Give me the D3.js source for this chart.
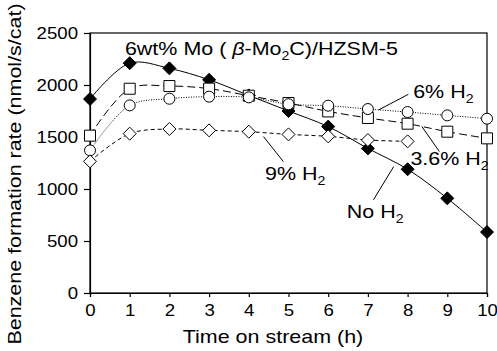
<!DOCTYPE html>
<html>
<head>
<meta charset="utf-8">
<script src="https://cdn.jsdelivr.net/npm/d3@7"></script>
<style>
  body { margin: 0; background: #fff; }
  text { font-family: "Liberation Sans", Arial, sans-serif; fill: #000; }
</style>
</head>
<body>
<div id="wrapper"></div>
<script>
// data
const hours = [0, 1, 2, 3, 4, 5, 6, 7, 8, 9, 10]
const noH2 = [1865, 2210, 2160, 2050, 1900, 1750, 1600, 1390, 1190, 910, 586]
const h2_36 = [1513, 1964, 1990, 1965, 1897, 1827, 1746, 1683, 1628, 1551, 1487]
const h2_6 = [1371, 1804, 1868, 1888, 1881, 1815, 1801, 1769, 1740, 1708, 1676]
const h2_9 = [1266, 1532, 1577, 1564, 1551, 1525, 1506, 1471, 1458]
const yTicks = [0, 500, 1000, 1500, 2000, 2500]
const xTicks = [0, 1, 2, 3, 4, 5, 6, 7, 8, 9, 10]

function drawChart() {

  // 1. series
  const series = [
    {name: "noH2", values: noH2, dash: null, marker: "diamond", fill: "#000"},
    {name: "h2_36", values: h2_36, dash: "8,4", marker: "square", fill: "#fff"},
    {name: "h2_6", values: h2_6, dash: "1,1.5", marker: "circle", fill: "#fff"},
    {name: "h2_9", values: h2_9, dash: "4,3", marker: "diamond", fill: "#fff"},
  ]

  // labels in data units, leader [x1,y1,x2,y2]
  const labels = [
    {x: 8.14, y: 1876, text: "6% H", sub: "2", leader: [7.27, 1760, 8.02, 1911]},
    {x: 8.07, y: 1232, text: "3.6% H", sub: "2", leader: [8.36, 1600, 8.80, 1360]},
    {x: 4.41, y: 1088, text: "9% H", sub: "2", leader: [4.37, 1504, 4.87, 1264]},
    {x: 6.47, y: 720, text: "No H", sub: "2", leader: [7.65, 1216, 7.14, 896]},
  ]

  // 2. dimensions
  let dimensions = {
    width: 497,
    height: 351,
    margin: {top: 33, right: 10, bottom: 58, left: 90},
  }
  dimensions.boundedWidth = dimensions.width - dimensions.margin.left - dimensions.margin.right
  dimensions.boundedHeight = dimensions.height - dimensions.margin.top - dimensions.margin.bottom

  // the original type is a bit wide, so text gets stretched sideways
  const stretch = 1.13

  // 3. canvas
  const wrapper = d3.select("#wrapper")
    .append("svg")
      .attr("width", dimensions.width)
      .attr("height", dimensions.height)

  const bounds = wrapper.append("g")
      .attr("transform", `translate(${dimensions.margin.left},${dimensions.margin.top})`)

  // 4. scales
  const xScale = d3.scaleLinear().domain([0, 10]).range([0, dimensions.boundedWidth])
  const yScale = d3.scaleLinear().domain([0, 2500]).range([dimensions.boundedHeight, 0])

  // 5. frame + axes
  bounds.append("rect")
      .attr("width", dimensions.boundedWidth)
      .attr("height", dimensions.boundedHeight)
      .attr("fill", "none")
      .attr("stroke", "#000")
      .attr("stroke-width", 1.2)

  const yAxis = bounds.append("g")
      .call(d3.axisLeft(yScale).tickValues(yTicks).tickSize(6).tickPadding(5).tickFormat(d3.format("d")))
  const xAxis = bounds.append("g")
      .attr("transform", `translate(0,${dimensions.boundedHeight})`)
      .call(d3.axisBottom(xScale).tickValues(xTicks).tickSize(4).tickPadding(7))

  ;[xAxis, yAxis].forEach(ax => {
    ax.select(".domain").attr("stroke-width", 1.2)
    ax.selectAll(".tick line").attr("stroke-width", 1.2)
    ax.selectAll(".tick text")
        .style("font-size", "16.5px")
        .style("font-family", "'Liberation Sans', Arial, sans-serif")
        .attr("fill", "#000")
        .attr("transform", `scale(${stretch},1)`)
  })
  yAxis.selectAll(".tick text").attr("x", -12 / stretch)

  // 6. lines
  const line = d3.line()
      .x((d, i) => xScale(hours[i]))
      .y(d => yScale(d))
      .curve(d3.curveCatmullRom.alpha(0.5))

  const seriesG = bounds.selectAll(".series")
    .data(series)
    .join("g")
      .attr("class", "series")

  seriesG.append("path")
      .attr("d", d => line(d.values))
      .attr("fill", "none")
      .attr("stroke", "#000")
      .attr("stroke-width", 1)
      .attr("stroke-dasharray", d => d.dash)

  // markers
  const markerPath = {
    diamond: "M0,-6.5L6.5,0L0,6.5L-6.5,0Z",
    square: "M-5.5,-5.5H5.5V5.5H-5.5Z",
  }
  seriesG.each(function(s) {
    const g = d3.select(this)
    const pts = s.values.map((v, i) => ({x: hours[i], y: v}))
    if (s.marker === "circle") {
      g.selectAll("circle")
        .data(pts)
        .join("circle")
          .attr("cx", d => xScale(d.x))
          .attr("cy", d => yScale(d.y))
          .attr("r", 5.5)
          .attr("fill", s.fill)
          .attr("stroke", "#000")
          .attr("stroke-width", 1)
    } else {
      g.selectAll("path.mk")
        .data(pts)
        .join("path")
          .attr("class", "mk")
          .attr("transform", d => `translate(${xScale(d.x)},${yScale(d.y)})`)
          .attr("d", markerPath[s.marker])
          .attr("fill", s.fill)
          .attr("stroke", "#000")
          .attr("stroke-width", 1)
    }
  })

  // 7. peripherals
  const anno = bounds.append("g")

  anno.selectAll("line")
    .data(labels)
    .join("line")
      .attr("x1", d => xScale(d.leader[0]))
      .attr("y1", d => yScale(d.leader[1]))
      .attr("x2", d => xScale(d.leader[2]))
      .attr("y2", d => yScale(d.leader[3]))
      .attr("stroke", "#000")
      .attr("stroke-width", 1)

  const labelText = anno.selectAll("text.lbl")
    .data(labels)
    .join("text")
      .attr("class", "lbl")
      .attr("transform", d => `translate(${xScale(d.x)},${yScale(d.y)}) scale(${stretch},1)`)
      .style("font-size", "19px")
  labelText.append("tspan").text(d => d.text)
  labelText.append("tspan")
      .attr("dy", 5)
      .style("font-size", "12.5px")
      .text(d => d.sub)

  // catalyst title
  const title = anno.append("text")
      .attr("transform", `translate(${xScale(0.88)},${yScale(2289)}) scale(${stretch},1)`)
      .style("font-size", "19px")
  title.append("tspan").text("6wt% Mo ( ")
  title.append("tspan").style("font-style", "italic").text("β")
  title.append("tspan").text("-Mo")
  title.append("tspan").attr("dy", 5).style("font-size", "12.5px").text("2")
  title.append("tspan").attr("dy", -5).text("C)/HZSM-5")

  // axis titles
  wrapper.append("text")
      .attr("transform", `translate(273,343) scale(${stretch},1)`)
      .attr("text-anchor", "middle")
      .style("font-size", "19px")
      .text("Time on stream (h)")

  wrapper.append("text")
      .attr("transform", `translate(21,174) rotate(-90) scale(${stretch},1)`)
      .attr("text-anchor", "middle")
      .style("font-size", "19px")
      .text("Benzene formation rate (nmol/s/cat)")
}

drawChart()
</script>
</body>
</html>
